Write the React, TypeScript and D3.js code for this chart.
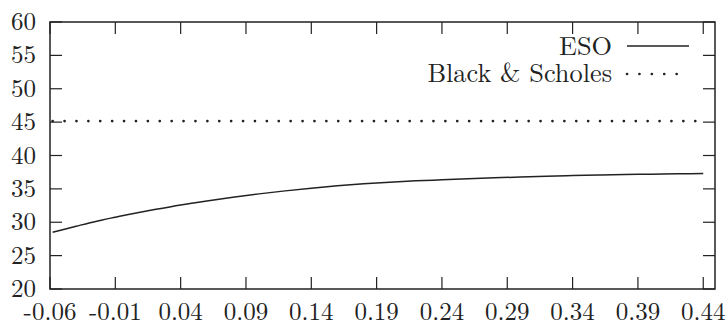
import React from 'react';
import * as d3 from 'd3';

const xVals = [-0.058, -0.04, -0.03, -0.02, -0.01, 0.0, 0.02, 0.04, 0.06, 0.08, 0.1, 0.12, 0.14, 0.16, 0.18, 0.2, 0.22, 0.24, 0.26, 0.28, 0.3, 0.32, 0.34, 0.36, 0.38, 0.4, 0.42, 0.44];
const esoVals = [28.5, 29.4, 29.9, 30.35, 30.75, 31.15, 31.9, 32.6, 33.2, 33.75, 34.25, 34.7, 35.1, 35.45, 35.75, 36.0, 36.2, 36.35, 36.5, 36.65, 36.78, 36.9, 37.0, 37.08, 37.15, 37.2, 37.25, 37.3];
const bsVals = xVals.map(() => 45.15);
const xTicks = [-0.06, -0.01, 0.04, 0.09, 0.14, 0.19, 0.24, 0.29, 0.34, 0.39, 0.44];
const yTicks = [20, 25, 30, 35, 40, 45, 50, 55, 60];
const seriesNames = ['ESO', 'Black & Scholes'];

const W = 726;
const H = 327;
const margin = { top: 22, right: 11, bottom: 38, left: 50 };
const font = 'Latin Modern Roman';

export default function App() {
  const x = d3
    .scaleLinear()
    .domain([-0.06, 0.449])
    .range([margin.left, W - margin.right]);
  const y = d3
    .scaleLinear()
    .domain([20, 60])
    .range([H - margin.bottom, margin.top]);

  const line = d3
    .line<number>()
    .x((_, i) => x(xVals[i]))
    .y((d) => y(d))
    .curve(d3.curveMonotoneX);

  const tick = 12;
  const x0 = margin.left;
  const x1 = W - margin.right;
  const y0 = H - margin.bottom;
  const y1 = margin.top;
  const fmt = (t: number) => d3.format('.2f')(t).replace('\u2212', '-');

  return (
    <svg width={W} height={H} style={{ position: 'absolute', left: 0, top: 0 }}>
      <rect width={W} height={H} fill="#fff" />
      {/* ticks, mirrored on all sides */}
      <g stroke="#222" strokeWidth={1.2}>
        {xTicks.map((t) => (
          <g key={t}>
            <line x1={x(t)} x2={x(t)} y1={y0} y2={y0 - tick} />
            <line x1={x(t)} x2={x(t)} y1={y1} y2={y1 + tick} />
          </g>
        ))}
        {yTicks.map((t) => (
          <g key={t}>
            <line x1={x0} x2={x0 + tick} y1={y(t)} y2={y(t)} />
            <line x1={x1} x2={x1 - tick} y1={y(t)} y2={y(t)} />
          </g>
        ))}
      </g>
      <g fontFamily={font} fontSize={25} fill="#222">
        {xTicks.map((t) => (
          <text key={t} x={x(t)} y={y0 + 30.5} textAnchor="middle">
            {fmt(t)}
          </text>
        ))}
        {yTicks.map((t) => (
          <text key={t} x={36} y={y(t) + 8} textAnchor="end">
            {t}
          </text>
        ))}
      </g>
      {/* series */}
      <path d={line(esoVals) ?? ''} fill="none" stroke="#222" strokeWidth={1.5} />
      <path
        d={line(bsVals) ?? ''}
        fill="none"
        stroke="#222"
        strokeWidth={2.6}
        strokeDasharray="0.1 11.8"
        strokeLinecap="round"
      />
      {/* legend */}
      <g fontFamily={font} fontSize={26.3} fill="#222">
        <text x={612} y={55} textAnchor="end">{seriesNames[0]}</text>
        <line x1={627} x2={689} y1={46} y2={46} stroke="#222" strokeWidth={1.5} />
        <text x={612} y={82} textAnchor="end">{seriesNames[1]}</text>
        <line
          x1={627}
          x2={689}
          y1={74}
          y2={74}
          stroke="#222"
          strokeWidth={2.6}
          strokeDasharray="0.1 12.3"
          strokeLinecap="round"
        />
      </g>
      <rect x={x0} y={y1} width={x1 - x0} height={y0 - y1} fill="none" stroke="#222" strokeWidth={1.5} />
    </svg>
  );
}
